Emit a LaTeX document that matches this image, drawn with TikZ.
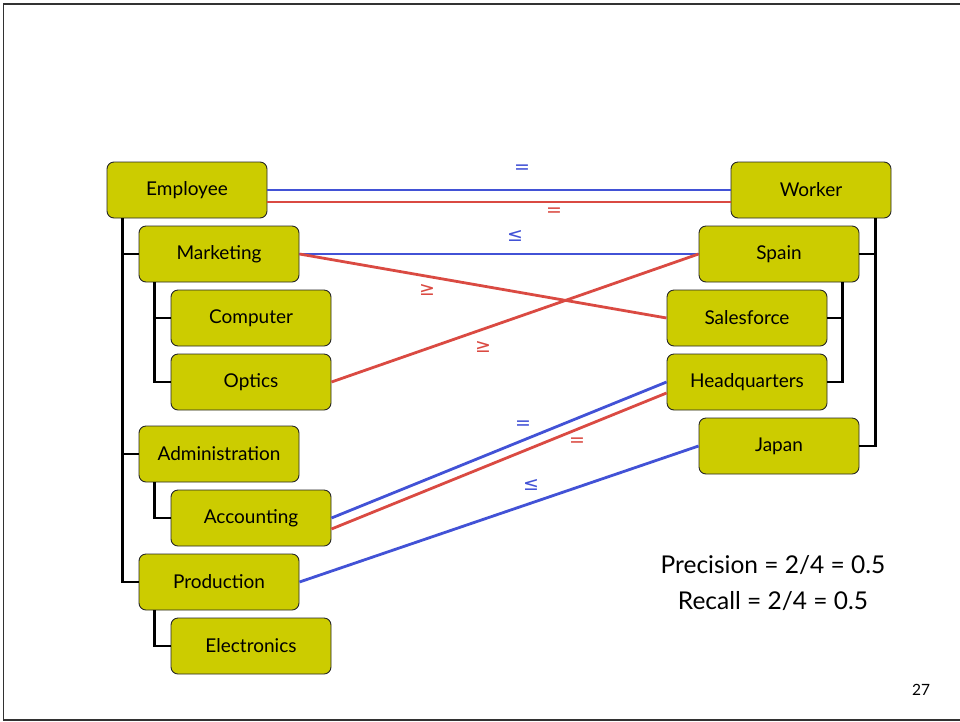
\documentclass[tikz,border=0pt]{standalone}
\usepackage{fontspec}
\setmainfont{Lato}
\newfontfamily\symf{DejaVu Sans}
\definecolor{boxfill}{RGB}{204,204,0}
\definecolor{mapblue}{RGB}{66,82,214}
\definecolor{mapred}{RGB}{218,74,66}
\definecolor{framegray}{RGB}{50,50,50}
\begin{document}
\begin{tikzpicture}[x=1pt,y=1pt,
  concept/.style={draw=black!85, line width=0.9pt, fill=boxfill, rounded corners=7pt,
    minimum width=160pt, minimum height=56pt, inner sep=0pt,
    font=\fontsize{19}{21}\selectfont},
  tree/.style={draw=black, line width=2.8pt},
  bluemap/.style={draw=mapblue, line width=2.8pt},
  redmap/.style={draw=mapred, line width=2.8pt},
  bluelab/.style={text=mapblue, font=\symf\fontsize{19}{20}\selectfont, inner sep=0pt},
  redlab/.style={text=mapred, font=\symf\fontsize{19}{20}\selectfont, inner sep=0pt},
  stat/.style={font=\fontsize{24.5}{26}\selectfont, inner sep=0pt}
]
\useasboundingbox (0,0) rectangle (960,-721);
\draw[framegray, line width=1.4pt] (962,-4) -- (3.5,-4) -- (3.5,-720) -- (962,-720);

% left hierarchy
\node[concept] (emp)  at (187,-190) {Employee};
\node[concept] (mkt)  at (219,-254) {Marketing};
\node[concept] (comp) at (251,-318) {Computer};
\node[concept] (opt)  at (251,-382) {Optics};
\node[concept] (adm)  at (219,-454) {Administration};
\node[concept] (acc)  at (251,-518) {Accounting};
\node[concept] (prod) at (219,-582) {Production};
\node[concept] (elec) at (251,-646) {Electronics};

% right hierarchy
\node[concept] (wrk)   at (811,-190) {Worker};
\node[concept] (spain) at (779,-254) {Spain};
\node[concept] (sales) at (747,-318) {Salesforce};
\node[concept] (hq)    at (747,-382) {Headquarters};
\node[concept] (japan) at (779,-446) {Japan};

% tree connectors (left)
\draw[tree] ([xshift=16pt]emp.south west) |- (mkt.west);
\draw[tree] ([xshift=16pt]emp.south west) |- (adm.west);
\draw[tree] ([xshift=16pt]emp.south west) |- (prod.west);
\draw[tree] ([xshift=16pt]mkt.south west) |- (comp.west);
\draw[tree] ([xshift=16pt]mkt.south west) |- (opt.west);
\draw[tree] ([xshift=16pt]adm.south west) |- (acc.west);
\draw[tree] ([xshift=16pt]prod.south west) |- (elec.west);

% tree connectors (right)
\draw[tree] ([xshift=-16pt]wrk.south east) |- (spain.east);
\draw[tree] ([xshift=-16pt]wrk.south east) |- (japan.east);
\draw[tree] ([xshift=-17pt]spain.south east) |- (sales.east);
\draw[tree] ([xshift=-17pt]spain.south east) |- (hq.east);

% mappings
\draw[bluemap] (emp.east) -- (wrk.west);
\draw[redmap] ([yshift=-12pt]emp.east) -- ([yshift=-12pt]wrk.west);
\draw[bluemap] (mkt.east) -- (spain.west);
\draw[redmap] (mkt.east) -- (sales.west);
\draw[redmap] (opt.east) -- (spain.west);
\draw[bluemap] (acc.east) -- (hq.west);
\draw[redmap] ([yshift=-11pt]acc.east) -- ([yshift=-11pt]hq.west);
\draw[bluemap] (prod.east) -- (japan.west);

% mapping labels
\node[bluelab] (l1) at (522,-169) {=};
\node[redlab]  (l2) at (554,-212) {=};
\node[bluelab] (l3) at (515,-236) {≤};
\node[redlab]  (l4) at (427,-290) {≥};
\node[redlab]  (l5) at (483,-347) {≥};
\node[bluelab] (l6) at (523,-425) {=};
\node[redlab]  (l7) at (577,-442) {=};
\node[bluelab] (l8) at (531,-485) {≤};

% statistics
\node[stat] (prec) at (773,-565) {Precision = 2/4 = 0.5};
\node[stat] (rec)  at (773,-601) {Recall = 2/4 = 0.5};
\node[font=\fontsize{15.5}{17}\selectfont, inner sep=0pt] (pg) at (921,-690) {27};
\end{tikzpicture}
\end{document}
